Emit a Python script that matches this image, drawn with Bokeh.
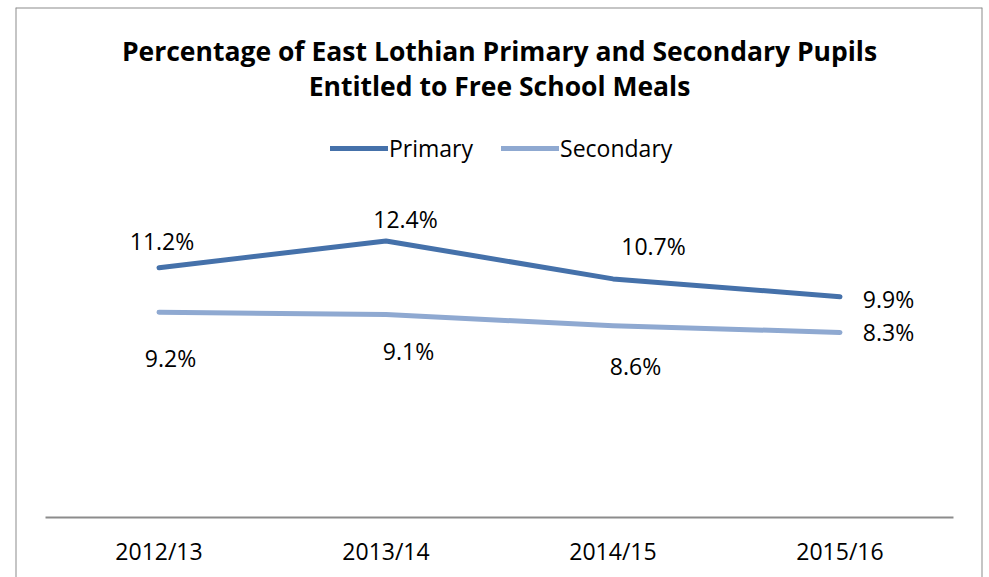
from bokeh.plotting import figure
from bokeh.models import (Range1d, LinearAxis, FixedTicker, Legend, LegendItem,
                          Label, Span, ColumnDataSource)
from bokeh.core.properties import value
from bokeh.embed import file_html
from bokeh.resources import INLINE

# ---- data ----
categories = ["2012/13", "2013/14", "2014/15", "2015/16"]
primary = [11.2, 12.4, 10.7, 9.9]
secondary = [9.2, 9.1, 8.6, 8.3]
series_names = ["Primary", "Secondary"]
title_lines = ["Percentage of East Lothian Primary and Secondary Pupils",
               "Entitled to Free School Meals"]

# ---- label offsets (screen px) ----
primary_dx = [3, 19.5, 40.5, 48.5]
primary_dy = [-27, -22, -33, 2]
secondary_dx = [11.5, 22.5, 22.5, 48.5]
secondary_dy = [46, 36, 40, 0]

FONT = "Open Sans"
C_PRI = "#4571AA"
C_SEC = "#8FA9D1"
GREY = "#8C8C8C"

idx = list(range(len(categories)))

p = figure(width=989, height=577, output_backend="svg", toolbar_location=None,
           title=None, x_axis_location=None, y_axis_location=None,
           x_range=Range1d(-0.6322, 3.6278), y_range=Range1d(-2.691, 22.870),
           min_border_left=15, min_border_right=7, min_border_top=7, min_border_bottom=0)
p.xgrid.visible = False
p.ygrid.visible = False
p.outline_line_color = None
p.background_fill_color = "white"
p.border_fill_color = "white"

# border (left, right, top)
for loc in [p.x_range.start, p.x_range.end]:
    p.add_layout(Span(location=loc, dimension="height", line_color=GREY, line_width=2))
p.add_layout(Span(location=p.y_range.end, dimension="width", line_color=GREY, line_width=2))

# category axis baseline
p.segment(x0=[-0.5], x1=[len(categories) - 0.5], y0=[0], y1=[0],
          line_color=GREY, line_width=2)

ax = LinearAxis(fixed_location=0)
ax.ticker = FixedTicker(ticks=idx)
ax.major_label_overrides = {i: c for i, c in enumerate(categories)}
ax.axis_line_color = None
ax.major_tick_line_color = None
ax.minor_tick_line_color = None
ax.major_label_text_font = FONT
ax.major_label_text_font_size = "23px"
ax.major_label_text_color = "black"
ax.major_label_standoff = 12
p.add_layout(ax, "below")

r1 = p.line(idx, primary, line_color=C_PRI, line_width=5, line_cap="round", line_join="round")
r2 = p.line(idx, secondary, line_color=C_SEC, line_width=5, line_cap="round", line_join="round")

for vals, dx, dy in [(primary, primary_dx, primary_dy), (secondary, secondary_dx, secondary_dy)]:
    src = ColumnDataSource(dict(x=idx, y=vals, t=[f"{v}%" for v in vals], dx=dx, dy=dy))
    p.text(x="x", y="y", text="t", x_offset="dx", y_offset="dy", source=src,
           text_align="center", text_baseline="middle", text_font=value(FONT),
           text_font_size="23px", text_color="black")

legend = Legend(items=[LegendItem(label=series_names[0], renderers=[r1]),
                       LegendItem(label=series_names[1], renderers=[r2])],
                orientation="horizontal", location=(315, 413),
                glyph_width=58, glyph_height=30, label_height=30,
                label_standoff=1, spacing=28, padding=0, margin=0,
                border_line_color=None, background_fill_alpha=0,
                label_text_font=FONT, label_text_font_size="23px",
                label_text_color="black")
p.add_layout(legend, "center")

for text, y in zip(title_lines, [527, 492]):
    p.add_layout(Label(x=(len(categories) - 1) / 2, y=y, x_units="data", y_units="screen",
                       text=text, text_align="center", text_baseline="middle",
                       text_font=FONT, text_font_style="bold", text_font_size="26.5px",
                       text_color="black"))

open("out.html", "w").write(file_html(p, INLINE))
